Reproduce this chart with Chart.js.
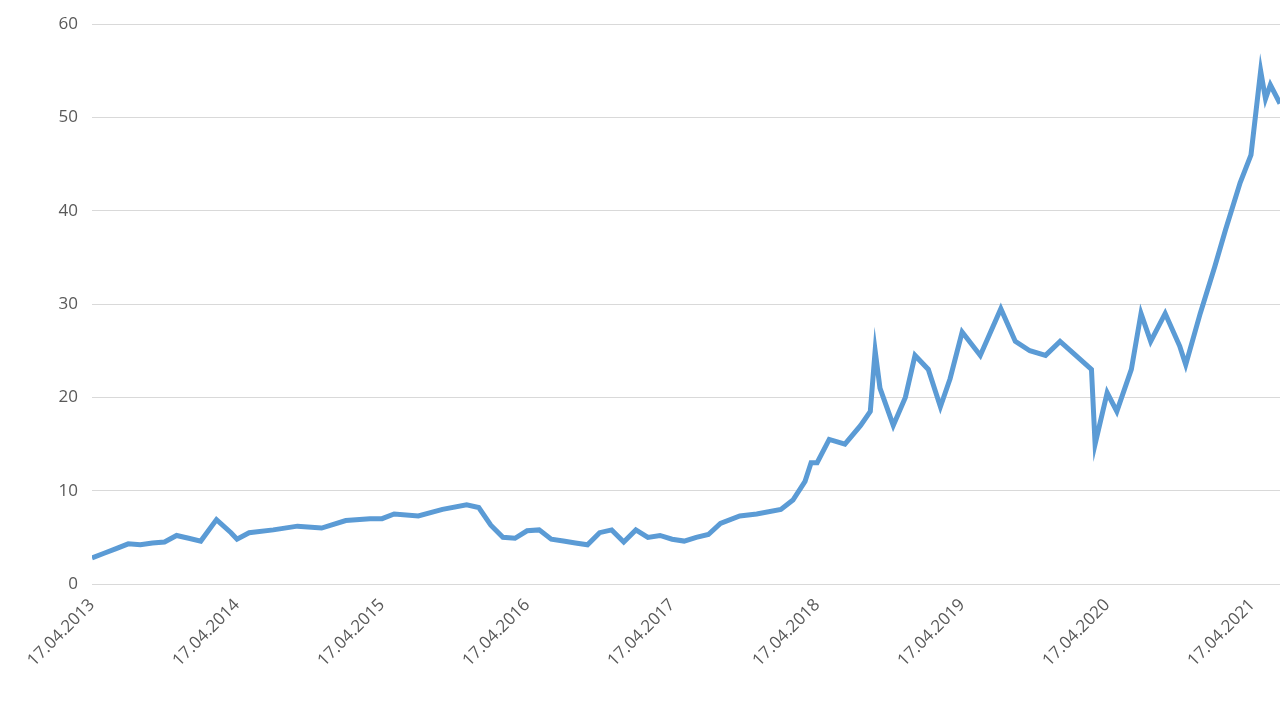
<!DOCTYPE html>
<html>
<head>
<meta charset="utf-8">
<script src="https://cdn.jsdelivr.net/npm/chart.js@4"></script>
<style>
  body { margin: 0; background: #fff; }
  #wrap { width: 1280px; height: 706px; }
</style>
</head>
<body>
<div id="wrap"><canvas id="chart"></canvas></div>
<script>
// months since 17.04.2013
const months = [0, 1, 2, 3, 4, 5, 6, 7, 8, 9, 10.3, 11.5, 12, 13, 15, 17, 19, 21, 23, 24, 25, 27, 29, 31, 32, 33, 34, 35, 36, 37, 38, 39, 40, 41, 42, 43, 44, 45, 46, 47, 48, 49, 50, 51, 52, 53.6, 55, 57, 58, 59, 59.5, 60, 61, 62.3, 63.6, 64.4, 64.8, 65.2, 66.3, 67.3, 68.1, 69.2, 70.2, 71, 72, 73.5, 75.2, 76.4, 77.6, 78.9, 80.1, 81.4, 82.7, 83, 84, 84.8, 86, 86.8, 87.6, 88.8, 90, 90.5, 91.7, 92.9, 93.8, 95, 95.9, 96.7, 97.1, 97.5, 98.3];
const values = [2.8, 3.3, 3.8, 4.3, 4.2, 4.4, 4.5, 5.2, 4.9, 4.6, 6.9, 5.5, 4.8, 5.5, 5.8, 6.2, 6.0, 6.8, 7.0, 7.0, 7.5, 7.3, 8.0, 8.5, 8.2, 6.3, 5.0, 4.9, 5.7, 5.8, 4.8, 4.6, 4.4, 4.2, 5.5, 5.8, 4.5, 5.8, 5.0, 5.2, 4.8, 4.6, 5.0, 5.3, 6.5, 7.3, 7.5, 8.0, 9.0, 11, 13, 13, 15.5, 15, 17, 18.5, 25, 21, 17, 20, 24.5, 23, 19, 22, 27, 24.5, 29.5, 26, 25, 24.5, 26, 24.5, 23, 15, 20.5, 18.5, 23, 29, 26, 29, 25.5, 23.5, 29, 34, 38, 43, 46, 55, 52, 53.5, 51.5];
const yearTicks = [0, 12, 24, 36, 48, 60, 72, 84, 96];
const yearLabels = ["17.04.2013", "17.04.2014", "17.04.2015", "17.04.2016", "17.04.2017", "17.04.2018", "17.04.2019", "17.04.2020", "17.04.2021"];

new Chart(document.getElementById("chart"), {
  type: "line",
  data: {
    datasets: [{
      data: months.map((m, i) => ({ x: m, y: values[i] })),
      borderColor: "#5b9bd5",
      borderWidth: 5,
      pointRadius: 0,
      tension: 0,
    }],
  },
  options: {
    responsive: true,
    maintainAspectRatio: false,
    animation: false,
    layout: { padding: { top: -4, right: 0, left: 0, bottom: 0 } },
    plugins: { legend: { display: false }, tooltip: { enabled: false } },
    scales: {
      x: {
        type: "linear",
        min: 0,
        max: 98.3,
        afterBuildTicks: (axis) => { axis.ticks = yearTicks.map((v) => ({ value: v })); },
        afterFit: (axis) => { axis.height = 122; },
        ticks: {
          color: "#595959",
          font: { family: "Open Sans", size: 17 },
          maxRotation: 45,
          minRotation: 45,
          autoSkip: false,
          callback: (v) => yearLabels[yearTicks.indexOf(v)],
        },
        grid: { display: false, drawTicks: true },
        border: { color: "#d9d9d9" },
      },
      y: {
        min: 0,
        max: 60,
        afterFit: (axis) => { axis.width = 92; },
        ticks: { stepSize: 10, color: "#595959", font: { family: "Open Sans", size: 17 }, padding: 14 },
        grid: { color: "#d9d9d9", drawTicks: false },
        border: { display: false },
      },
    },
  },
});
</script>
</body>
</html>
